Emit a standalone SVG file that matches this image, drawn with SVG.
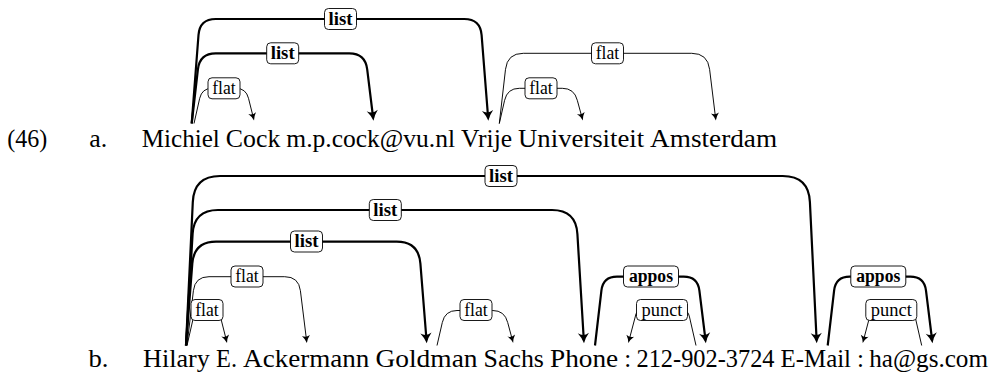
<svg xmlns="http://www.w3.org/2000/svg" width="996" height="373" viewBox="0 0 996 373">
<style>
.w{font-family:"Liberation Serif","Times New Roman",serif;font-size:25px;fill:#000}
.e{fill:none;stroke:#000;stroke-linejoin:round}
.b{stroke-width:2.2px;marker-end:url(#ab)}
.t{stroke-width:0.95px;marker-end:url(#at)}
.lb rect{fill:#fff;stroke:#000;stroke-width:0.9px}
.lb text{font-family:"Liberation Serif","Times New Roman",serif;font-size:18px;fill:#000;text-anchor:middle}
.lb .bd{font-weight:bold}
</style>
<defs>
<marker id="ab" markerUnits="userSpaceOnUse" viewBox="-9 -7 14 14" refX="0" refY="0" markerWidth="14" markerHeight="14" orient="auto">
<path d="M3.2,0 Q-2,-1.6 -7,-5.6 Q-3.2,0 -7,5.6 Q-2,1.6 3.2,0 Z" fill="#000"/>
</marker>
<marker id="at" markerUnits="userSpaceOnUse" viewBox="-7 -5 11 10" refX="0" refY="0" markerWidth="11" markerHeight="10" orient="auto">
<path d="M3,0 Q-1.2,-1.1 -4.6,-4 Q-2.2,0 -4.6,4 Q-1.2,1.1 3,0 Z" fill="#000"/>
</marker>
</defs>
<rect width="996" height="373" fill="#fff"/>

<g id="ex-a">
<text class="w" x="7.3" y="146.5" textLength="40" lengthAdjust="spacingAndGlyphs">(46)</text>
<text class="w" x="89.3" y="146.5" textLength="18" lengthAdjust="spacingAndGlyphs">a.</text>
</g>
<g id="ex-b">
<text class="w" x="88.5" y="367" textLength="20" lengthAdjust="spacingAndGlyphs">b.</text>
</g>

<g id="a-Michiel"><text class="w" x="141.7" y="146.5" textLength="78.1" lengthAdjust="spacingAndGlyphs">Michiel</text></g>
<g id="a-Cock"><text class="w" x="225.8" y="146.5" textLength="54.5" lengthAdjust="spacingAndGlyphs">Cock</text></g>
<g id="a-email"><text class="w" x="286.3" y="146.5" textLength="168.8" lengthAdjust="spacingAndGlyphs">m.p.cock@vu.nl</text></g>
<g id="a-Vrije"><text class="w" x="461.1" y="146.5" textLength="51" lengthAdjust="spacingAndGlyphs">Vrije</text></g>
<g id="a-Universiteit"><text class="w" x="518.1" y="146.5" textLength="126" lengthAdjust="spacingAndGlyphs">Universiteit</text></g>
<g id="a-Amsterdam"><text class="w" x="650.1" y="146.5" textLength="127" lengthAdjust="spacingAndGlyphs">Amsterdam</text></g>

<g id="b-Hilary"><text class="w" x="143" y="367" textLength="66.9" lengthAdjust="spacingAndGlyphs">Hilary</text></g>
<g id="b-E"><text class="w" x="216" y="367" textLength="21" lengthAdjust="spacingAndGlyphs">E.</text></g>
<g id="b-Ackermann"><text class="w" x="243.1" y="367" textLength="126.3" lengthAdjust="spacingAndGlyphs">Ackermann</text></g>
<g id="b-Goldman"><text class="w" x="375.5" y="367" textLength="102" lengthAdjust="spacingAndGlyphs">Goldman</text></g>
<g id="b-Sachs"><text class="w" x="483.6" y="367" textLength="60.3" lengthAdjust="spacingAndGlyphs">Sachs</text></g>
<g id="b-Phone"><text class="w" x="550" y="367" textLength="68.2" lengthAdjust="spacingAndGlyphs">Phone</text></g>
<g id="b-colon1"><text class="w" x="624.3" y="367">:</text></g>
<g id="b-number"><text class="w" x="636.5" y="367" textLength="138" lengthAdjust="spacingAndGlyphs">212-902-3724</text></g>
<g id="b-EMail"><text class="w" x="780.6" y="367" textLength="70.4" lengthAdjust="spacingAndGlyphs">E-Mail</text></g>
<g id="b-colon2"><text class="w" x="857" y="367">:</text></g>
<g id="b-haemail"><text class="w" x="869.2" y="367" textLength="118.8" lengthAdjust="spacingAndGlyphs">ha@gs.com</text></g>

<g id="connectors">
<g id="edges">
<path class="e b" d="M191.7,123.5 L198.5,35 Q199.7,19 215.7,19 L464.3,19 Q480.3,19 481.6,35 L488.1,117.5"/>
<path class="e b" d="M191.7,123.5 L197.9,69.3 Q199.7,53.3 215.7,53.3 L349.3,53.3 Q365.3,53.3 367.2,69.3 L373.1,117.5"/>
<path class="e t" d="M194,123.5 L199.7,98.3 Q202,88.3 212,88.3 L236,88.3 Q246,88.3 248.5,98.3 L253.3,117.5"/>
<path class="e t" d="M499.3,123.5 L505.5,69.3 Q507.3,53.3 523.3,53.3 L691.7,53.3 Q707.7,53.3 709.6,69.3 L715.5,117.5"/>
<path class="e t" d="M499.3,123.5 L504.6,100.3 Q507.3,88.3 519.3,88.3 L562.3,88.3 Q574.3,88.3 577.3,100.3 L582,117.5"/>

<path class="e b" d="M186,345.5 L192.8,202 Q194,176 220,176 L782.7,176 Q808.7,176 809.9,202 L816.6,340"/>
<path class="e b" d="M186,345.5 L192.6,234 Q194,210 218,210 L552,210 Q576,210 577.4,234 L583.8,340"/>
<path class="e b" d="M186,345.5 L192.3,263.7 Q194,241.7 216,241.7 L396.7,241.7 Q418.7,241.7 420.4,263.7 L426.5,340"/>
<path class="e t" d="M187,345.5 L193.4,290.7 Q195,276.7 209,276.7 L284.7,276.7 Q298.7,276.7 300.4,290.7 L306.5,340"/>
<path class="e t" d="M187,345.5 L193.5,317 Q195,310 200,310 L214,310 Q219,310 220.5,317 L226.3,340"/>
<path class="e t" d="M437,345.5 L442.3,322.5 Q445,310.5 457,310.5 L492.7,310.5 Q504.7,310.5 507.7,322.5 L512.4,340"/>
<path class="e b" d="M595,345.5 L601.4,290.7 Q603,276.7 617,276.7 L683.7,276.7 Q697.7,276.7 699.4,290.7 L705.5,340"/>
<path class="e t" d="M696,345.5 L689.5,317 Q688,310 683,310 L641.3,310 Q636.3,310 635.2,317 L629.1,340.1"/>
<path class="e b" d="M827.7,345.5 L834.1,290.7 Q835.7,276.7 849.7,276.7 L910.3,276.7 Q924.3,276.7 926,290.7 L932.1,340"/>
<path class="e t" d="M921.7,345.5 L915.2,317 Q913.7,310 908.7,310 L875.7,310 Q870.7,310 869.6,317 L863.5,340.1"/>
</g>
<g id="labels" class="lb">
<rect x="324.5" y="8.5" width="32" height="21" rx="4"/><text class="bd" x="340.5" y="24.5" textLength="24" lengthAdjust="spacingAndGlyphs">list</text>
<rect x="266.7" y="42.8" width="32" height="21" rx="4"/><text class="bd" x="282.7" y="58.8" textLength="24" lengthAdjust="spacingAndGlyphs">list</text>
<rect x="208" y="77.8" width="32" height="21" rx="4"/><text x="224" y="93.8" textLength="23.5" lengthAdjust="spacingAndGlyphs">flat</text>
<rect x="591.5" y="42.8" width="32" height="21" rx="4"/><text x="607.5" y="58.8" textLength="23.5" lengthAdjust="spacingAndGlyphs">flat</text>
<rect x="525" y="77.8" width="32" height="21" rx="4"/><text x="541" y="93.8" textLength="23.5" lengthAdjust="spacingAndGlyphs">flat</text>

<rect x="485" y="165.5" width="32" height="21" rx="4"/><text class="bd" x="501" y="181.5" textLength="24" lengthAdjust="spacingAndGlyphs">list</text>
<rect x="369.3" y="199.5" width="32" height="21" rx="4"/><text class="bd" x="385.3" y="215.5" textLength="24" lengthAdjust="spacingAndGlyphs">list</text>
<rect x="290.5" y="231" width="32" height="21" rx="4"/><text class="bd" x="306.5" y="247" textLength="24" lengthAdjust="spacingAndGlyphs">list</text>
<rect x="231" y="266" width="32" height="21" rx="4"/><text x="247" y="282" textLength="23.5" lengthAdjust="spacingAndGlyphs">flat</text>
<rect x="191" y="299.5" width="32" height="21" rx="4"/><text x="207" y="315.5" textLength="23.5" lengthAdjust="spacingAndGlyphs">flat</text>
<rect x="460" y="299.5" width="32" height="21" rx="4"/><text x="476" y="315.5" textLength="23.5" lengthAdjust="spacingAndGlyphs">flat</text>
<rect x="623.5" y="266" width="55" height="21" rx="4"/><text class="bd" x="651" y="282" textLength="44" lengthAdjust="spacingAndGlyphs">appos</text>
<rect x="636.5" y="299.5" width="51" height="21" rx="4"/><text x="662" y="315.5" textLength="41" lengthAdjust="spacingAndGlyphs">punct</text>
<rect x="850.8" y="266" width="55" height="21" rx="4"/><text class="bd" x="878.3" y="282" textLength="44" lengthAdjust="spacingAndGlyphs">appos</text>
<rect x="865.8" y="299.5" width="51" height="21" rx="4"/><text x="891.3" y="315.5" textLength="41" lengthAdjust="spacingAndGlyphs">punct</text>
</g>
</g>
</svg>
